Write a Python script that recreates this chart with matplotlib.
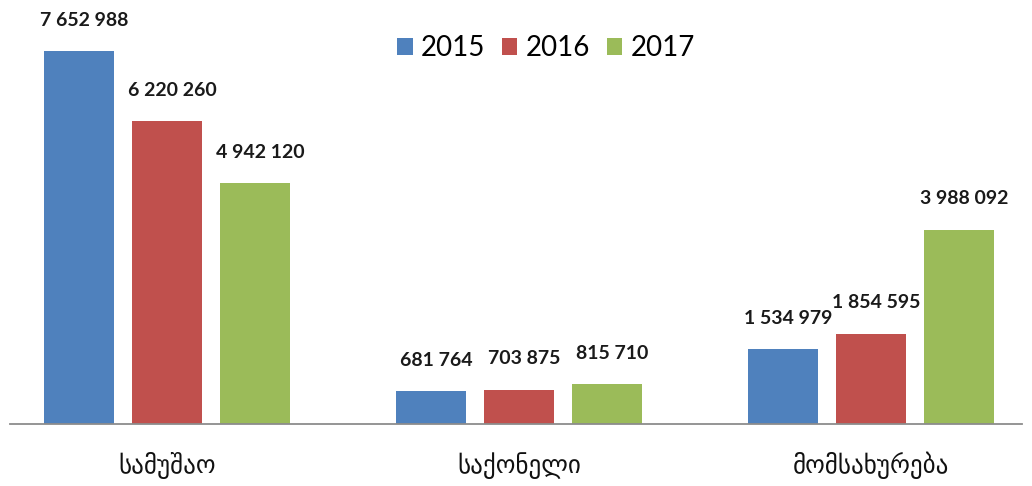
import matplotlib
matplotlib.use("Agg")
import matplotlib.pyplot as plt
import numpy as np
from matplotlib.patches import Patch

categories = ["სამუშაო", "საქონელი", "მომსახურება"]
years = ["2015", "2016", "2017"]
values_2015 = [7652988, 681764, 1534979]
values_2016 = [6220260, 703875, 1854595]
values_2017 = [4942120, 815710, 3988092]

colors = ["#4F81BD", "#C0504D", "#9BBB59"]
series = [values_2015, values_2016, values_2017]

def fmt(v):
    return f"{v:,}".replace(",", " ")

fig = plt.figure(figsize=(10.32, 4.86), dpi=100)
ax = fig.add_axes([10/1032, 62/486, 1012/1032, 424/486])

x = np.arange(len(categories))
step = 0.25
width = 0.199
for i, (vals, c) in enumerate(zip(series, colors)):
    pos = x + (i - 1) * step
    ax.bar(pos, vals, width=width, color=c, zorder=2)
    for p, v in zip(pos, vals):
        ax.annotate(fmt(v), (p, v), xytext=(4, 16), textcoords="offset points",
                    ha="center", va="bottom", fontsize=14, fontweight="bold",
                    family=["Lato", "DejaVu Sans"], color="#1a1a1a")

ax.set_xlim(-0.446, 2.429)
ax.set_ylim(0, 7652988 * 424 / 373)
for s in ["top", "right", "left"]:
    ax.spines[s].set_visible(False)
ax.spines["bottom"].set_color("#8c8c8c")
ax.spines["bottom"].set_linewidth(1.3)
ax.set_yticks([])
ax.set_xticks(x)
ax.set_xticklabels(categories, fontsize=18, family=["DejaVu Sans"], color="#111111")
ax.tick_params(axis="x", length=0, pad=20)

handles = [Patch(facecolor=c, edgecolor="none") for c in colors]
fig.legend(handles, years, loc="center", bbox_to_anchor=(546/1032, 1 - 48/486),
           ncol=3, frameon=False, prop={"family": ["Lato", "DejaVu Sans"], "size": 20},
           handlelength=0.55, handleheight=0.55, handletextpad=0.3, columnspacing=0.6)

fig.savefig("out.png", dpi=100, facecolor="white")
